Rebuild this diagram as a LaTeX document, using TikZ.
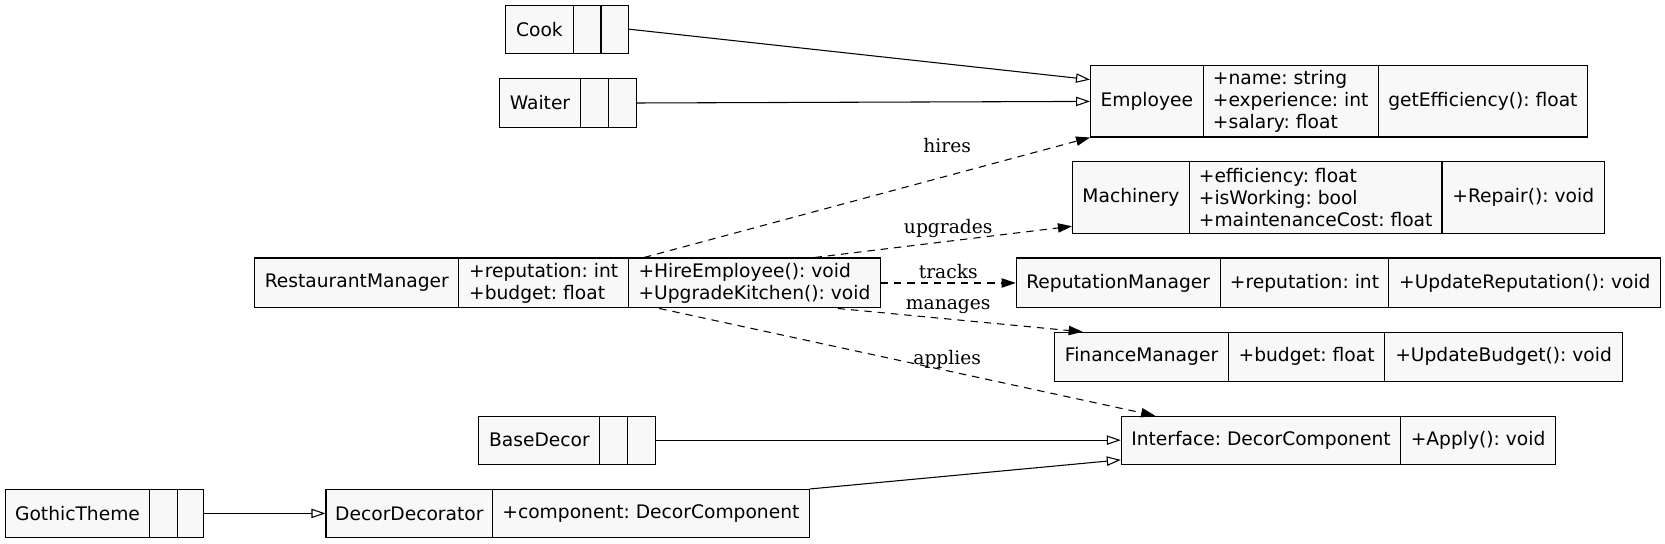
\documentclass[tikz,border=0pt]{standalone}
\usepackage{fontspec}
\setmainfont{DejaVu Sans}
\newfontfamily\labelfont{DejaVu Serif}
\usetikzlibrary{arrows.meta}
\definecolor{recordfill}{RGB}{248,248,248}
\frenchspacing

\begin{document}
\begin{tikzpicture}[x=0.7964pt, y=-0.7964pt,
	part/.style={draw, fill=recordfill, line width=0.8pt, inner sep=0pt, align=left, font=\fontsize{14pt}{16.5pt}\selectfont},
	inherit/.style={line width=0.8pt, -{Triangle[open, length=10.5pt, width=7pt]}},
	uses/.style={line width=0.8pt, dash pattern=on 5.5pt off 4.5pt, -{Triangle[length=10.5pt, width=7pt]}},
	edgelabel/.style={font=\labelfont\fontsize{14pt}{16pt}\selectfont, inner sep=0pt}]
	\useasboundingbox (0, 0) rectangle (1568, 512);

	% \drawpart#name#left#right#top#bottom#text
	\def\drawpart#1#2#3#4#5#6{
		\pgfmathsetmacro\partw{(#3 - #2) * 0.7964}
		\pgfmathsetmacro\parth{(#5 - #4) * 0.7964}
		\node[part, minimum width=\partw pt, minimum height=\parth pt] (#1) at ({(#2 + #3) / 2}, {(#4 + #5) / 2}) {#6};
	}

	% \drawrecord#name#top#bottom#parts
	\def\drawrecord#1#2#3#4{
		\foreach \l/\r/\txt [count=\i] in {#4} {
			\drawpart{#1-\i}{\l}{\r}{#2}{#3}{\txt}
		}
	}

	% records
	\drawrecord{cook}{5}{50}{476/540/Cook, 540/566/{}, 566/592/{}}
	\drawrecord{waiter}{74}{120}{470/547/Waiter, 547/573/{}, 573/599/{}}
	\drawrecord{emp}{62}{129}{1027/1133/Employee, 1133/1298/{+name: string\\+experience: int\\+salary: float}, 1298/1495/{getEfficiency(): float}}
	\drawrecord{mach}{152}{220}{1010/1120/Machinery, 1120/1358/{+efficiency: float\\+isWorking: bool\\+maintenanceCost: float}, 1358/1511/{+Repair(): void}}
	\drawrecord{rm}{243}{290}{240/432/RestaurantManager, 432/592/{+reputation: int\\+budget: float}, 592/829/{+HireEmployee(): void\\+UpgradeKitchen(): void}}
	\drawrecord{rep}{243}{290}{957/1149/ReputationManager, 1149/1308/{+reputation: int}, 1308/1564/{+UpdateReputation(): void}}
	\drawrecord{fin}{313}{359}{993/1157/FinanceManager, 1157/1304/{+budget: float}, 1304/1528/{+UpdateBudget(): void}}
	\drawrecord{base}{392}{437}{451/565/BaseDecor, 565/591/{}, 591/617/{}}
	\drawrecord{iface}{392}{437}{1056/1319/{Interface: DecorComponent}, 1319/1465/{+Apply(): void}}
	\drawrecord{gothic}{461}{506}{5/141/GothicTheme, 141/167/{}, 167/192/{}}
	\drawrecord{deco}{461}{506}{307/464/DecorDecorator, 464/762/{+component: DecorComponent}}

	% inheritance
	\draw[inherit] (cook-3.east) -- (emp-1.159);
	\draw[inherit] (waiter-3.east) -- (emp-1.west);
	\draw[inherit] (base-3.east) -- (iface-1.west);
	\draw[inherit] (deco-2.north east) -- (iface-1.188);
	\draw[inherit] (gothic-3.east) -- (deco-1.west);

	% dependencies
	\draw[uses] (rm-3.167) -- (emp-1.south west);
	\draw[uses] (rm-3.23) -- (mach-1.206);
	\draw[uses] (rm-3.east) -- (rep-1.west);
	\draw[uses] (rm-3.343) -- (fin-1.157);
	\draw[uses] (rm-3.195) -- (iface-1.167);

	% labels
	\node[edgelabel] (lbl-hires) at (892, 137) {hires};
	\node[edgelabel] (lbl-upgrades) at (893, 215) {upgrades};
	\node[edgelabel] (lbl-tracks) at (893, 256) {tracks};
	\node[edgelabel] (lbl-manages) at (893, 289) {manages};
	\node[edgelabel] (lbl-applies) at (892, 338) {applies};
\end{tikzpicture}
\end{document}
